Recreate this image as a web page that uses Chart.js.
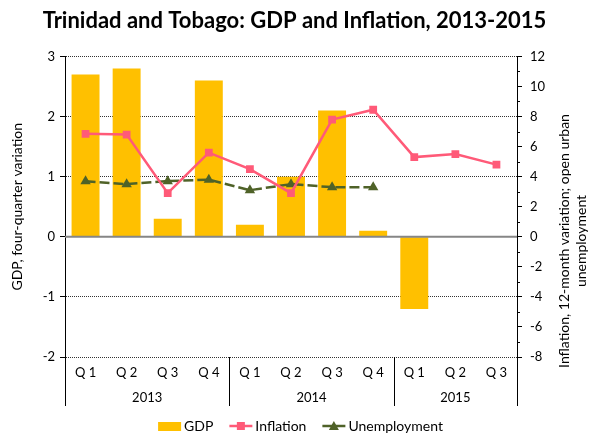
<!DOCTYPE html>
<html>
<head>
<meta charset="utf-8">
<title>Trinidad and Tobago: GDP and Inflation, 2013-2015</title>
<script src="https://cdn.jsdelivr.net/npm/chart.js@4.4.0/dist/chart.umd.min.js"></script>
<style>
    html, body { margin: 0; padding: 0; background: #fff; }
    #wrap { width: 589px; height: 434px; position: relative; }
</style>
</head>
<body>
<div id="wrap"><canvas id="gdpChart"></canvas></div>
<script>
// data
const quarters = ['Q 1', 'Q 2', 'Q 3', 'Q 4', 'Q 1', 'Q 2', 'Q 3', 'Q 4', 'Q 1', 'Q 2', 'Q 3'];
const years = ['2013', '2014', '2015'];
const quartersPerYear = [4, 4, 3];
const gdp = [2.7, 2.8, 0.3, 2.6, 0.2, 1.0, 2.1, 0.1, -1.2, null, null];
const inflation = [6.85, 6.8, 2.9, 5.6, 4.5, 2.9, 7.8, 8.45, 5.3, 5.5, 4.8];
const unemployment = [3.7, 3.5, 3.7, 3.8, 3.1, 3.5, 3.3, 3.3, null, null, null];
const leftRange = [-2, 3];
const rightRange = [-8, 12];
const leftTitle = 'GDP, four-quarter variation';
const rightTitle = ['Inflation, 12-month variation; open urban', 'unemployment'];

const FONT = 'Lato, "Open Sans", sans-serif';
const GDP_COLOR = '#FFC000';
const INFL_COLOR = '#FF5A78';
const UNEMP_COLOR = '#4F6228';

(() => {
    const canvas = document.getElementById('gdpChart');
    if (!canvas) {
        return;
    }

    // zero line over the bars (Excel draws the category axis at 0)
    const zeroLine = {
        id: 'zeroLine',
        afterDatasetDraw(chart, args) {
            if (chart.data.datasets[args.index].type !== 'bar') {
                return;
            }
            const { ctx, chartArea } = chart;
            const y = chart.scales.y.getPixelForValue(0);
            ctx.save();
            ctx.strokeStyle = '#868686';
            ctx.lineWidth = 2;
            ctx.beginPath();
            ctx.moveTo(chartArea.left, y);
            ctx.lineTo(chartArea.right, y);
            ctx.stroke();
            ctx.restore();
        },
    };

    // year row under the quarter labels, with separators
    const yearGroups = {
        id: 'yearGroups',
        afterDraw(chart) {
            const { ctx, chartArea } = chart;
            const x = chart.scales.x;
            const top = chartArea.bottom;
            const bottom = chartArea.bottom + 49;
            const edges = [chartArea.left];
            let idx = 0;
            quartersPerYear.forEach((n, i) => {
                idx += n;
                if (i < quartersPerYear.length - 1) {
                    edges.push((x.getPixelForValue(idx - 1) + x.getPixelForValue(idx)) / 2);
                }
            });
            edges.push(chartArea.right);

            ctx.save();
            ctx.strokeStyle = '#000';
            ctx.lineWidth = 1;
            edges.forEach((ex) => {
                const px = Math.round(ex) + 0.5;
                ctx.beginPath();
                ctx.moveTo(px, top);
                ctx.lineTo(px, bottom);
                ctx.stroke();
            });
            ctx.fillStyle = '#000';
            ctx.font = `13px ${FONT}`;
            ctx.textAlign = 'center';
            ctx.textBaseline = 'middle';
            years.forEach((yr, i) => {
                ctx.fillText(yr, (edges[i] + edges[i + 1]) / 2, chartArea.bottom + 41);
            });
            ctx.restore();
        },
    };

    // minor ticks and rotated two-line title on the right axis
    const rightAxisExtras = {
        id: 'rightAxisExtras',
        afterDraw(chart) {
            const { ctx } = chart;
            const y2 = chart.scales.y2;
            ctx.save();
            ctx.strokeStyle = '#000';
            ctx.lineWidth = 1;
            for (let v = rightRange[0] + 1; v < rightRange[1]; v += 2) {
                const py = Math.round(y2.getPixelForValue(v)) + 0.5;
                ctx.beginPath();
                ctx.moveTo(y2.left, py);
                ctx.lineTo(y2.left + 3, py);
                ctx.stroke();
            }

            ctx.fillStyle = '#000';
            ctx.font = `14px ${FONT}`;
            ctx.textAlign = 'center';
            ctx.textBaseline = 'middle';
            const cy = 241;
            const xs = [564, 581];
            rightTitle.forEach((line, i) => {
                ctx.save();
                ctx.translate(xs[i], cy);
                ctx.rotate(-Math.PI / 2);
                ctx.fillText(line, 0, 0);
                ctx.restore();
            });
            ctx.restore();
        },
    };

    // legend row at the bottom: bar swatch, line + marker icons
    const legendRow = {
        id: 'legendRow',
        afterDraw(chart) {
            const { ctx } = chart;
            const y = 426;
            const iconW = 23;
            const items = chart.data.datasets;
            ctx.save();
            ctx.font = `14px ${FONT}`;
            ctx.textBaseline = 'middle';
            const widths = items.map((ds) => ctx.measureText(ds.label).width);
            const gap = 16;
            const total = widths.reduce((a, w) => a + iconW + 3 + w, 0) + gap * (items.length - 1);
            let x = chart.width / 2 + 6 - total / 2;

            items.forEach((ds, i) => {
                if (ds.type === 'bar') {
                    ctx.fillStyle = ds.backgroundColor;
                    ctx.fillRect(x, y - 4, iconW, 9);
                } else {
                    ctx.strokeStyle = ds.borderColor;
                    ctx.lineWidth = 2.5;
                    ctx.beginPath();
                    ctx.moveTo(x, y);
                    ctx.lineTo(x + iconW, y);
                    ctx.stroke();
                    ctx.fillStyle = ds.borderColor;
                    const cx = x + iconW / 2;
                    if (ds.pointStyle === 'rect') {
                        ctx.fillRect(cx - 4, y - 4, 8, 8);
                    } else {
                        ctx.beginPath();
                        ctx.moveTo(cx, y - 5);
                        ctx.lineTo(cx + 5, y + 4);
                        ctx.lineTo(cx - 5, y + 4);
                        ctx.closePath();
                        ctx.fill();
                    }
                }
                ctx.fillStyle = '#000';
                ctx.textAlign = 'left';
                ctx.fillText(ds.label, x + iconW + 3, y);
                x += iconW + 3 + widths[i] + gap;
            });
            ctx.restore();
        },
    };

    const tickFont = { family: FONT, size: 13 };

    new Chart(canvas.getContext('2d'), {
        data: {
            labels: quarters,
            datasets: [
                {
                    type: 'bar',
                    label: 'GDP',
                    data: gdp,
                    yAxisID: 'y',
                    backgroundColor: GDP_COLOR,
                    borderWidth: 0,
                    categoryPercentage: 1,
                    barPercentage: 0.68,
                    order: 3,
                },
                {
                    type: 'line',
                    label: 'Inflation',
                    data: inflation,
                    yAxisID: 'y2',
                    borderColor: INFL_COLOR,
                    backgroundColor: INFL_COLOR,
                    borderWidth: 2.5,
                    pointStyle: 'rect',
                    pointRadius: 5.5,
                    pointBorderWidth: 0,
                    tension: 0,
                    order: 1,
                },
                {
                    type: 'line',
                    label: 'Unemployment',
                    data: unemployment,
                    yAxisID: 'y2',
                    borderColor: UNEMP_COLOR,
                    backgroundColor: UNEMP_COLOR,
                    borderWidth: 2.5,
                    borderDash: [10, 4],
                    pointStyle: 'triangle',
                    pointRadius: 6,
                    pointBorderWidth: 0,
                    tension: 0,
                    order: 2,
                },
            ],
        },
        options: {
            responsive: true,
            maintainAspectRatio: false,
            animation: false,
            layout: { padding: { left: 0, right: 0, top: 0, bottom: 27 } },
            plugins: {
                legend: { display: false },
                tooltip: { enabled: false },
                title: {
                    display: true,
                    text: 'Trinidad and Tobago: GDP and Inflation, 2013-2015',
                    color: '#000',
                    font: { family: FONT, size: 22, weight: 'bold', lineHeight: 1.2 },
                    padding: { top: 8, bottom: 22 },
                },
            },
            scales: {
                x: {
                    grid: { display: false, drawTicks: false },
                    border: { display: false },
                    ticks: { font: tickFont, color: '#000', padding: 8, maxRotation: 0, autoSkip: false },
                    afterFit: (scale) => { scale.height = 50; },
                },
                y: {
                    position: 'left',
                    min: leftRange[0],
                    max: leftRange[1],
                    ticks: { stepSize: 1, font: tickFont, color: '#000', padding: 5 },
                    grid: {
                        color: (c) => (c.tick && c.tick.value === 0 ? 'rgba(0,0,0,0)' : '#333'),
                        tickColor: '#000',
                        tickLength: 5,
                        tickBorderDash: [],
                    },
                    border: { display: true, color: '#000', width: 1, dash: [1, 1] },
                    title: {
                        display: true,
                        text: leftTitle,
                        color: '#000',
                        font: { family: FONT, size: 14 },
                        padding: { top: 9, bottom: 0 },
                    },
                    afterFit: (scale) => { scale.width = 65; },
                },
                y2: {
                    position: 'right',
                    min: rightRange[0],
                    max: rightRange[1],
                    ticks: { stepSize: 2, font: tickFont, color: '#000', padding: 8 },
                    grid: { drawOnChartArea: false, color: '#000', tickLength: 5 },
                    border: { display: true, color: '#000', width: 1 },
                    afterFit: (scale) => { scale.width = 72; },
                },
            },
        },
        plugins: [zeroLine, yearGroups, rightAxisExtras, legendRow],
    });
})();
</script>
</body>
</html>
